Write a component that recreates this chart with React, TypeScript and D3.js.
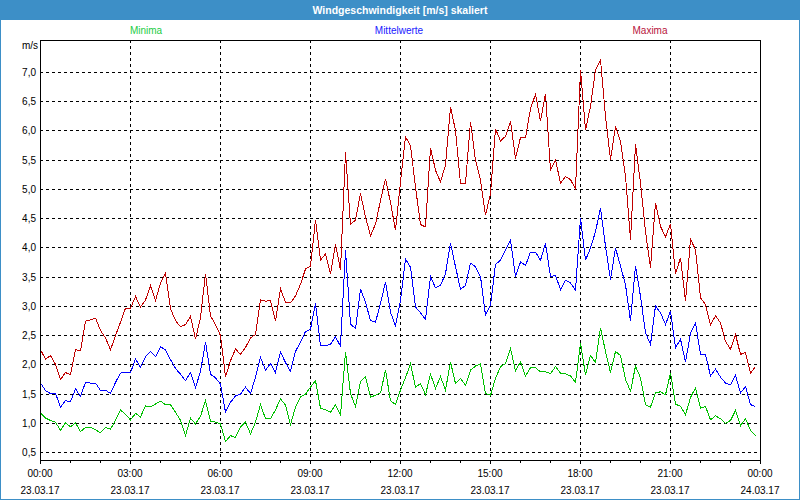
import React from 'react';
import * as d3 from 'd3';

// 10-minute samples, 00:00 .. 23:50 on 23.03.17
const maxima = [
  2.25, 2.09, 2.15, 2.0, 1.74, 1.86, 1.82, 2.25, 2.23, 2.74, 2.76, 2.79, 2.58, 2.45, 2.25, 2.49, 2.72, 2.96,
  2.96, 3.16, 2.98, 3.1, 3.34, 3.09, 3.39, 3.56, 2.95, 2.75, 2.64, 2.68, 2.82, 2.43, 2.8, 3.55, 2.83, 2.68,
  2.49, 1.79, 2.06, 2.26, 2.17, 2.29, 2.45, 2.51, 3.1, 3.08, 3.09, 2.74, 3.29, 3.06, 3.05, 3.17, 3.37, 3.63,
  3.68, 4.47, 3.78, 3.89, 3.55, 4.06, 3.61, 5.63, 4.39, 4.47, 4.92, 4.52, 4.2, 4.4, 4.8, 5.17, 4.77, 4.29,
  5.12, 5.89, 5.74, 5.03, 4.39, 4.35, 5.7, 5.32, 5.12, 5.41, 6.4, 6.0, 5.09, 5.1, 6.15, 5.49, 5.15, 4.55,
  4.92, 6.03, 5.82, 5.9, 6.16, 5.52, 5.88, 5.88, 6.37, 6.62, 6.16, 6.63, 5.32, 5.5, 5.1, 5.21, 5.16, 5.0,
  7.03, 6.01, 6.41, 7.04, 7.21, 6.24, 5.5, 6.07, 5.81, 5.22, 4.13, 5.76, 5.1, 4.27, 3.65, 4.76, 4.36, 4.18,
  4.4, 3.55, 3.82, 3.08, 4.14, 3.96, 3.14, 3.02, 2.68, 2.83, 2.71, 2.39, 2.26, 2.51, 2.17, 2.2, 1.85, 1.96,
];

const mittelwerte = [
  1.68, 1.55, 1.5, 1.5, 1.27, 1.38, 1.36, 1.58, 1.45, 1.69, 1.68, 1.68, 1.55, 1.56, 1.5, 1.69, 1.85, 1.86,
  1.86, 2.09, 1.95, 2.13, 2.22, 2.13, 2.3, 2.25, 2.08, 1.93, 1.83, 1.72, 1.86, 1.6, 1.88, 2.38, 1.83, 1.77,
  1.66, 1.18, 1.35, 1.46, 1.49, 1.61, 1.5, 1.78, 2.12, 1.9, 2.01, 1.86, 2.21, 2.03, 1.88, 2.22, 2.38, 2.56,
  2.6, 3.04, 2.32, 2.32, 2.34, 2.47, 2.31, 3.95, 2.69, 2.61, 3.29, 3.06, 2.75, 2.72, 3.04, 3.41, 2.89, 2.66,
  3.09, 3.8, 3.66, 2.98, 2.88, 2.77, 3.5, 3.31, 3.35, 3.55, 4.07, 3.67, 3.28, 3.35, 3.73, 3.67, 3.5, 2.84,
  3.01, 3.71, 3.78, 3.95, 4.13, 3.5, 3.75, 3.69, 3.92, 3.92, 3.78, 4.07, 3.5, 3.52, 3.28, 3.44, 3.39, 3.27,
  4.5, 3.78, 3.99, 4.27, 4.67, 4.02, 3.45, 3.99, 3.68, 3.36, 2.74, 3.68, 3.16, 2.54, 2.34, 3.0, 2.88, 2.68,
  2.91, 2.28, 2.43, 2.04, 2.53, 2.71, 2.17, 2.17, 1.8, 1.92, 1.78, 1.68, 1.65, 1.81, 1.51, 1.62, 1.31, 1.28,
];

const minima = [
  1.17, 1.08, 1.04, 1.01, 0.87, 1.0, 0.93, 1.0, 0.85, 0.92, 0.92, 0.88, 0.83, 0.92, 0.89, 1.04, 1.22, 1.14,
  1.05, 1.16, 1.1, 1.29, 1.27, 1.32, 1.37, 1.31, 1.31, 1.18, 1.04, 0.78, 1.08, 0.98, 1.11, 1.38, 1.03, 1.01,
  0.98, 0.68, 0.78, 0.75, 0.93, 1.01, 0.81, 1.01, 1.31, 1.07, 1.07, 1.22, 1.41, 1.3, 0.97, 1.27, 1.44, 1.49,
  1.61, 1.72, 1.25, 1.22, 1.18, 1.31, 1.13, 2.21, 1.5, 1.28, 1.7, 1.79, 1.44, 1.47, 1.51, 1.9, 1.38, 1.31,
  1.56, 1.77, 2.01, 1.61, 1.67, 1.48, 1.83, 1.59, 1.79, 1.56, 2.04, 1.67, 1.76, 1.64, 1.9, 1.97, 2.01, 1.5,
  1.47, 1.76, 1.96, 2.01, 2.27, 1.89, 2.04, 1.8, 1.94, 1.94, 1.87, 1.87, 1.84, 1.96, 1.85, 1.84, 1.8, 1.69,
  2.36, 1.82, 2.15, 2.03, 2.62, 2.22, 1.86, 2.22, 2.15, 1.74, 1.54, 1.97, 1.77, 1.31, 1.27, 1.51, 1.53, 1.48,
  1.85, 1.32, 1.28, 1.14, 1.43, 1.6, 1.25, 1.28, 1.05, 1.12, 1.07, 0.99, 1.04, 1.21, 0.95, 1.07, 0.87, 0.78,
];

const xTickHours = [0, 3, 6, 9, 12, 15, 18, 21, 24];
const xTickTimes = ['00:00', '03:00', '06:00', '09:00', '12:00', '15:00', '18:00', '21:00', '00:00'];
const xTickDates = ['23.03.17', '23.03.17', '23.03.17', '23.03.17', '23.03.17', '23.03.17', '23.03.17', '23.03.17', '24.03.17'];
const minorHours = d3.range(0, 25);
const yTicks = [0.5, 1.0, 1.5, 2.0, 2.5, 3.0, 3.5, 4.0, 4.5, 5.0, 5.5, 6.0, 6.5, 7.0];

const seriesNames = ['Minima', 'Mittelwerte', 'Maxima'];
const title = 'Windgeschwindigkeit [m/s] skaliert';
const unit = 'm/s';

const W = 800, H = 500;
const L = 40, R = 760, T = 40, B = 460;
const FONT = '"Liberation Sans", Arial, sans-serif';
const BLUE_BAR = '#3d8fc7';

export default function App() {
  const x = d3.scaleLinear().domain([0, 24 * 60]).range([L, R]);
  const y = d3.scaleLinear().domain([0.5, 7.0]).range([452, 72]);
  const line = d3.line<number>().x((_, i) => x(i * 10) + 0.5).y(d => y(d));

  const series = [
    { name: seriesNames[0], data: minima, color: '#00c000', label: '#22cc44', lx: 146 },
    { name: seriesNames[1], data: mittelwerte, color: '#0000ff', label: '#2020ff', lx: 399 },
    { name: seriesNames[2], data: maxima, color: '#c00000', label: '#b8143c', lx: 650 },
  ];

  const fmt = (v: number) => v.toFixed(1).replace('.', ',');

  return (
    <svg width={W} height={H} style={{ position: 'absolute', left: 0, top: 0, background: '#fff' }} fontFamily={FONT}>
      <rect x={0} y={0} width={W} height={H} fill="#ffffff" />
      <rect x={0} y={0} width={W} height={20} fill={BLUE_BAR} />
      <rect x={0.5} y={0.5} width={W - 1} height={H - 1} fill="none" stroke={BLUE_BAR} />
      <text x={W / 2} y={14} textAnchor="middle" fill="#ffffff" fontSize={10.5} fontWeight="bold">{title}</text>

      {series.map(s => (
        <text key={s.name} x={s.lx} y={34} textAnchor="middle" fill={s.label} fontSize={10}>{s.name}</text>
      ))}

      {/* horizontal grid */}
      {yTicks.map(v => (
        <g key={'y' + v}>
          <line x1={L} x2={R} y1={Math.round(y(v)) + 0.5} y2={Math.round(y(v)) + 0.5} stroke="#000" strokeDasharray="3,3" shapeRendering="crispEdges" />
          <text x={36} y={Math.round(y(v)) + 4} textAnchor="end" fontSize={10} fill="#000">{fmt(v)}</text>
        </g>
      ))}
      <text x={38} y={49} textAnchor="end" fontSize={10} fill="#000">{unit}</text>

      {/* vertical grid */}
      {xTickHours.slice(1, -1).map(h => (
        <line key={'v' + h} x1={Math.round(x(h * 60)) + 0.5} x2={Math.round(x(h * 60)) + 0.5} y1={T} y2={B} stroke="#000" strokeDasharray="3,3" shapeRendering="crispEdges" />
      ))}

      {/* minor ticks */}
      {minorHours.map(h => (
        <line key={'m' + h} x1={Math.round(x(h * 60)) + 0.5} x2={Math.round(x(h * 60)) + 0.5} y1={B} y2={B + (h % 3 === 0 ? 4 : 3)} stroke="#000" shapeRendering="crispEdges" />
      ))}

      {/* x labels */}
      {xTickHours.map((h, i) => (
        <g key={'xl' + i}>
          <text x={x(h * 60)} y={477} textAnchor="middle" fontSize={10} fill="#000">{xTickTimes[i]}</text>
          <text x={x(h * 60)} y={494} textAnchor="middle" fontSize={10} fill="#000">{xTickDates[i]}</text>
        </g>
      ))}

      {/* series */}
      {series.map(s => (
        <path key={'p' + s.name} d={line(s.data) || ''} fill="none" stroke={s.color} strokeWidth={1} shapeRendering="crispEdges" />
      ))}

      {/* frame */}
      <rect x={L + 0.5} y={T + 0.5} width={R - L} height={B - T} fill="none" stroke="#000" shapeRendering="crispEdges" />
    </svg>
  );
}
